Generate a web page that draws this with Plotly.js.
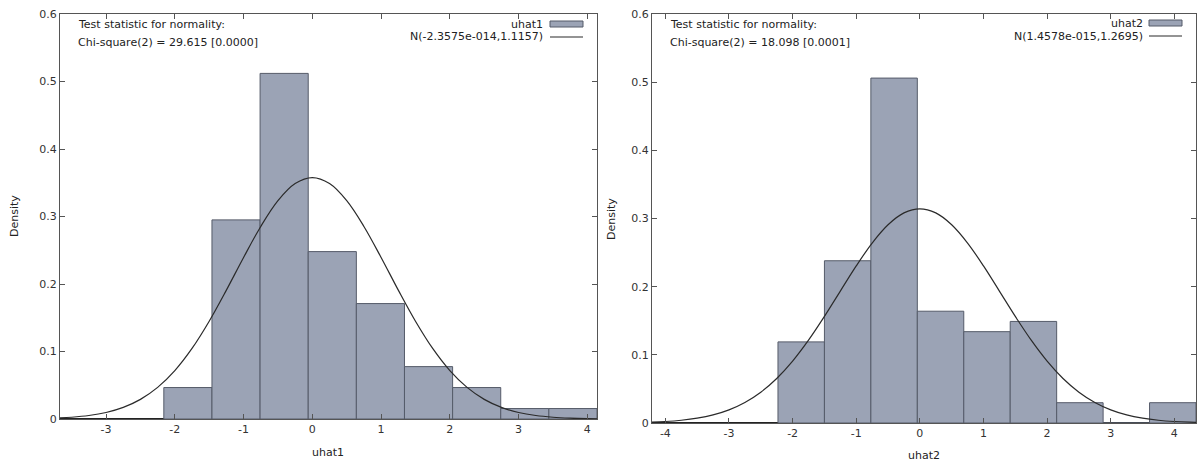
<!DOCTYPE html>
<html>
<head>
<meta charset="utf-8">
<script src="https://cdn.plot.ly/plotly-3.0.1.min.js"></script>
<style>
html,body{margin:0;padding:0;background:#fff;}
#chart{width:1198px;height:466px;}
</style>
</head>
<body>
<div id="chart"></div>
<script>
// ---- data ----
const binEdges1 = [-2.16, -1.46, -0.76, -0.06, 0.64, 1.34, 2.04, 2.74, 3.44, 4.14];
const density1  = [0.0466, 0.295, 0.512, 0.248, 0.171, 0.0776, 0.0466, 0.0155, 0.0155];
const binEdges2 = [-2.23, -1.50, -0.77, -0.04, 0.69, 1.42, 2.15, 2.88, 3.61, 4.34];
const density2  = [0.119, 0.238, 0.506, 0.164, 0.134, 0.149, 0.0298, 0, 0.0298];

const normX  = [-4.5,-4.25,-4,-3.75,-3.5,-3.25,-3,-2.75,-2.5,-2.25,-2,-1.75,-1.5,-1.25,-1,-0.75,-0.5,-0.25,0,
                0.25,0.5,0.75,1,1.25,1.5,1.75,2,2.25,2.5,2.75,3,3.25,3.5,3.75,4,4.25,4.5];
const normY1 = [0.0001,0.00025,0.00058,0.00126,0.00261,0.00514,0.00963,0.01714,0.02905,0.0468,0.07172,0.10451,0.14484,0.19092,0.23932,0.28528,0.32343,0.34873,0.3576,
                0.34873,0.32343,0.28528,0.23932,0.19092,0.14484,0.10451,0.07172,0.0468,0.02905,0.01714,0.00963,0.00514,0.00261,0.00126,0.00058,0.00025,0.0001];
const normY2 = [0.00059,0.00116,0.0022,0.00401,0.00703,0.01186,0.01926,0.03008,0.0452,0.06534,0.09085,0.12153,0.15636,0.19353,0.23045,0.26394,0.29081,0.30823,0.31426,
                0.30823,0.29081,0.26394,0.23045,0.19353,0.15636,0.12153,0.09085,0.06534,0.0452,0.03008,0.01926,0.01186,0.00703,0.00401,0.0022,0.00116,0.00059];

const xTicks1 = [-3, -2, -1, 0, 1, 2, 3, 4];
const xTickText1 = ['-3', '-2', '-1', '0', '1', '2', '3', '4'];
const xTicks2 = [-4, -3, -2, -1, 0, 1, 2, 3, 4];
const xTickText2 = ['-4', '-3', '-2', '-1', '0', '1', '2', '3', '4'];
const yTicks = [0, 0.1, 0.2, 0.3, 0.4, 0.5, 0.6];
const yTickText = ['0', '0.1', '0.2', '0.3', '0.4', '0.5', '0.6'];

const series1 = "uhat1", series2 = "uhat2";
const normLabel1 = "N(-2.3575e-014,1.1157)", normLabel2 = "N(1.4578e-015,1.2695)";
const testLine1 = "Chi-square(2) = 29.615 [0.0000]", testLine2 = "Chi-square(2) = 18.098 [0.0001]";
const testHead = "Test statistic for normality:";
const yTitle = "Density";

// ---- helpers ----
function centers(e){ const c=[]; for(let i=0;i<e.length-1;i++) c.push((e[i]+e[i+1])/2); return c; }
function widths(e){ const w=[]; for(let i=0;i<e.length-1;i++) w.push(e[i+1]-e[i]); return w; }

const barFill = '#9ba3b5', barLine = '#555b69', curveCol = '#2a2a2a';
const W = 1198, H = 466;
const px = v => v / W, py = v => 1 - v / H;

const traces = [
  {type:'bar', x:centers(binEdges1), y:density1, width:widths(binEdges1), xaxis:'x', yaxis:'y',
   marker:{color:barFill, line:{color:barLine, width:1}}, hoverinfo:'x+y'},
  {type:'scatter', mode:'lines', x:normX, y:normY1, xaxis:'x', yaxis:'y',
   line:{color:curveCol, width:1.2, shape:'spline'}},
  {type:'bar', x:centers(binEdges2), y:density2, width:widths(binEdges2), xaxis:'x2', yaxis:'y2',
   marker:{color:barFill, line:{color:barLine, width:1}}, hoverinfo:'x+y'},
  {type:'scatter', mode:'lines', x:normX, y:normY2, xaxis:'x2', yaxis:'y2',
   line:{color:curveCol, width:1.2, shape:'spline'}}
];

const FONT = 'DejaVu Sans, Liberation Sans, sans-serif';
const tickFont = {family:FONT, size:11, color:'#333'};
const axBase = {showline:true, mirror:'ticks', linecolor:'#555', linewidth:1, ticks:'inside', ticklen:5,
                tickcolor:'#555', showgrid:false, zeroline:false, tickfont:tickFont, automargin:false, fixedrange:true};

const txtFont = {family:FONT, size:11, color:'#222'};
function ann(text,x,y,xa,extra){ return Object.assign({text, x, y, xref:'paper', yref:'paper', xanchor:xa, yanchor:'middle', showarrow:false, font:txtFont}, extra||{}); }

const layout = {
  width:W, height:H, margin:{l:0,r:0,t:0,b:0}, paper_bgcolor:'#fff', plot_bgcolor:'#fff',
  showlegend:false, bargap:0,
  xaxis: Object.assign({}, axBase, {domain:[px(60), px(597)], range:[-3.67, 4.14], tickmode:'array', tickvals:xTicks1, ticktext:xTickText1, anchor:'y'}),
  yaxis: Object.assign({}, axBase, {domain:[1-419/H, 1-14/H], range:[0,0.6], tickmode:'array', tickvals:yTicks, ticktext:yTickText, anchor:'x',
                                    zeroline:true, zerolinecolor:'#222', zerolinewidth:1.5}),
  xaxis2: Object.assign({}, axBase, {domain:[px(652), px(1196)], range:[-4.21, 4.34], tickmode:'array', tickvals:xTicks2, ticktext:xTickText2, anchor:'y2'}),
  yaxis2: Object.assign({}, axBase, {domain:[1-423/H, 1-14/H], range:[0,0.6], tickmode:'array', tickvals:yTicks, ticktext:yTickText, anchor:'x2',
                                    zeroline:true, zerolinecolor:'#222', zerolinewidth:1.5}),
  annotations: [
    ann(testHead, px(76), py(25), 'left'),
    ann(testLine1, px(76), py(43), 'left'),
    ann(series1, px(545), py(24), 'right'),
    ann(normLabel1, px(545), py(37), 'right'),
    ann(testHead, px(668), py(25), 'left'),
    ann(testLine2, px(668), py(43), 'left'),
    ann(series2, px(1145), py(23), 'right'),
    ann(normLabel2, px(1145), py(36), 'right'),
    ann(yTitle, px(14), py(216), 'center', {textangle:-90}),
    ann(yTitle, px(611), py(219), 'center', {textangle:-90}),
    ann(series1, px(328), py(452), 'center'),
    ann(series2, px(924), py(455), 'center')
  ],
  shapes: [
    {type:'rect', xref:'paper', yref:'paper', x0:px(550), x1:px(583), y0:py(27), y1:py(21), fillcolor:barFill, line:{color:barLine,width:1}},
    {type:'line', xref:'paper', yref:'paper', x0:px(550), x1:px(583), y0:py(37), y1:py(37), line:{color:curveCol,width:1.2}},
    {type:'rect', xref:'paper', yref:'paper', x0:px(1149), x1:px(1182), y0:py(26), y1:py(20), fillcolor:barFill, line:{color:barLine,width:1}},
    {type:'line', xref:'paper', yref:'paper', x0:px(1149), x1:px(1182), y0:py(36), y1:py(36), line:{color:curveCol,width:1.2}}
  ]
};

Plotly.newPlot('chart', traces, layout, {displayModeBar:false, staticPlot:true});
</script>
</body>
</html>
